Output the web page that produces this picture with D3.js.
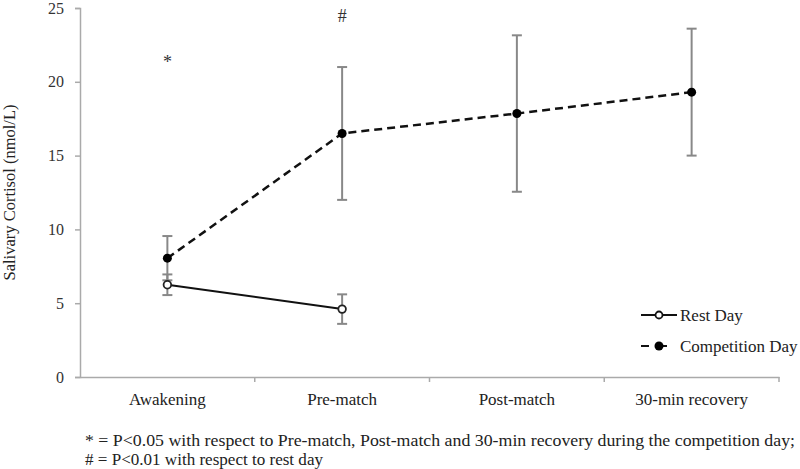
<!DOCTYPE html>
<html><head><meta charset="utf-8">
<script src="https://cdn.jsdelivr.net/npm/d3@7"></script>
<style>body{margin:0;background:#fff}svg{display:block;font-family:"Liberation Serif","Times New Roman",serif}</style>
</head><body><svg id="c" width="800" height="469"></svg>
<script>
const categories = ["Awakening","Pre-match","Post-match","30-min recovery"];
const restMean = [6.25, 4.6];
const restErr = [0.7, 1.0];
const compMean = [8.05, 16.5, 17.85, 19.3];
const compErr = [1.5, 4.5, 5.3, 4.3];
const yTicks = [0,5,10,15,20,25];
const annotations = [{cat:"Awakening", y:21.2, text:"*"},{cat:"Pre-match", y:24.3, text:"#"}];
const footnotes = ["* = P<0.05 with respect to Pre-match, Post-match and 30-min recovery during the competition day;","# = P<0.01 with respect to rest day"];
const footnoteWidths = [710, 238];

const svg = d3.select("#c");
const m = {l:80, r:21, t:8, b:92};
const W = 800, H = 469;
const x = d3.scaleBand().domain(categories).range([m.l, W-m.r]);
const y = d3.scaleLinear().domain([0,25]).range([H-m.b, m.t]);
const cx = c => x(c) + x.bandwidth()/2;

// axes
const ya = svg.append("g").attr("transform",`translate(${m.l},0)`)
  .call(d3.axisLeft(y).tickValues(yTicks).tickSize(5).tickPadding(11));
ya.select(".domain").attr("stroke","#aaa").attr("stroke-width",1.5);
ya.selectAll(".tick line").attr("stroke","#aaa").attr("stroke-width",1.5);
ya.selectAll("text").attr("font-size",16).attr("fill","#333").attr("font-family","Liberation Serif");

const xa = svg.append("g").attr("transform",`translate(0,${y(0)})`)
  .call(d3.axisBottom(x).tickSize(0).tickPadding(16));
xa.select(".domain").attr("stroke","#aaa").attr("stroke-width",1.5);
xa.selectAll("text").attr("font-size",17).attr("fill","#222").attr("font-family","Liberation Serif");
// category boundary ticks
svg.append("g").selectAll("line").data(categories)
  .join("line")
  .attr("x1", (d,i)=> m.l + x.bandwidth()*(i+1)).attr("x2", (d,i)=> m.l + x.bandwidth()*(i+1))
  .attr("y1", y(0)).attr("y2", y(0)+5).attr("stroke","#aaa").attr("stroke-width",1.5);

svg.append("text").attr("transform",`translate(15,${(y(0)+y(25))/2}) rotate(-90)`)
  .attr("text-anchor","middle").attr("font-size",16.5).attr("fill","#222")
  .text("Salivary Cortisol (nmol/L)");

// error bars
function errBars(means, errs){
  const g = svg.append("g");
  means.forEach((mv,i)=>{
    const X = cx(categories[i]);
    g.append("line").attr("x1",X).attr("x2",X).attr("y1",y(mv-errs[i])).attr("y2",y(mv+errs[i]))
      .attr("stroke","#888").attr("stroke-width",2);
    [mv-errs[i], mv+errs[i]].forEach(v=>{
      g.append("line").attr("x1",X-5).attr("x2",X+5).attr("y1",y(v)).attr("y2",y(v))
        .attr("stroke","#888").attr("stroke-width",2);
    });
  });
}
errBars(compMean, compErr);
errBars(restMean, restErr);

const line = d3.line().x((d,i)=>cx(categories[i])).y(d=>y(d));
svg.append("path").datum(compMean).attr("d",line).attr("fill","none")
  .attr("stroke","#111").attr("stroke-width",2.5).attr("stroke-dasharray","8,5");
svg.append("path").datum(restMean).attr("d",line).attr("fill","none")
  .attr("stroke","#111").attr("stroke-width",2);

svg.append("g").selectAll("circle").data(compMean).join("circle")
  .attr("cx",(d,i)=>cx(categories[i])).attr("cy",d=>y(d)).attr("r",4.5).attr("fill","#000");
svg.append("g").selectAll("circle").data(restMean).join("circle")
  .attr("cx",(d,i)=>cx(categories[i])).attr("cy",d=>y(d)).attr("r",3.8)
  .attr("fill","#fff").attr("stroke","#222").attr("stroke-width",1.8);

// annotations
svg.append("g").selectAll("text").data(annotations).join("text")
  .attr("x",d=>cx(d.cat)).attr("y",d=>y(d.y)).attr("text-anchor","middle")
  .attr("dominant-baseline","middle").attr("font-size",18).attr("fill","#333").text(d=>d.text);

// legend
const leg = svg.append("g");
const legItems = [{label:"Rest Day", dash:null, open:true, yy:315},{label:"Competition Day", dash:"8,10", open:false, yy:346}];
legItems.forEach(it=>{
  leg.append("line").attr("x1",641).attr("x2",677).attr("y1",it.yy).attr("y2",it.yy)
    .attr("stroke","#111").attr("stroke-width",2).attr("stroke-dasharray",it.dash);
  leg.append("circle").attr("cx",659).attr("cy",it.yy).attr("r",it.open?3.5:4.5)
    .attr("fill",it.open?"#fff":"#000").attr("stroke","#111").attr("stroke-width",it.open?1.8:0);
  leg.append("text").attr("x",680).attr("y",it.yy).attr("dominant-baseline","central")
    .attr("font-size",17).attr("fill","#222").text(it.label);
});

// footnotes
svg.append("g").selectAll("text").data(footnotes).join("text")
  .attr("x",85).attr("y",(d,i)=>446+i*19).attr("font-size",17).attr("fill","#222")
  .attr("textLength",(d,i)=>footnoteWidths[i]).attr("lengthAdjust","spacingAndGlyphs").text(d=>d);
</script></body></html>
